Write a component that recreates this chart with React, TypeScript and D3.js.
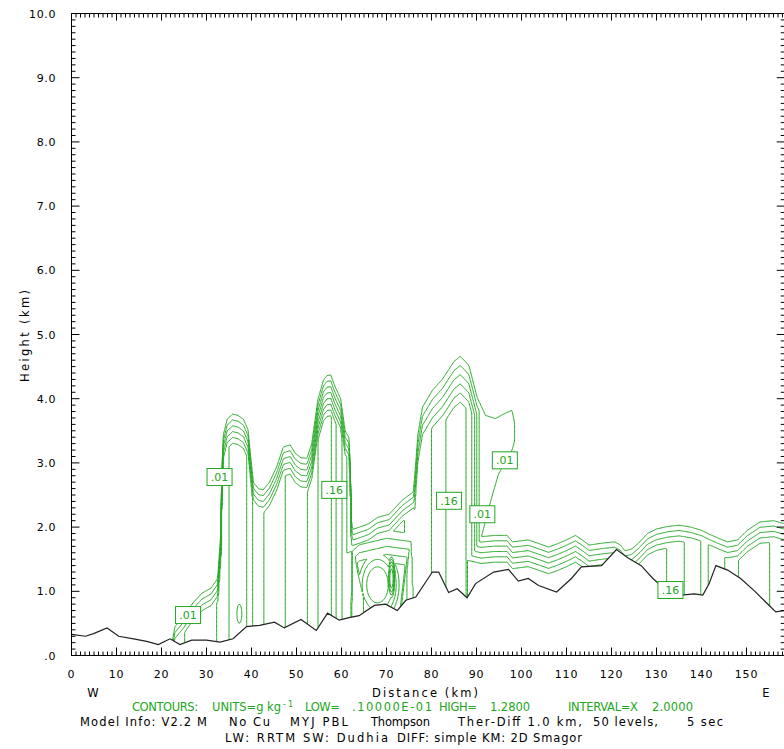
import React, { useMemo } from 'react';
import * as d3 from 'd3';

type P = [number, number];

const X_MAX = 158.5;
const contourLevels = [0.01, 0.02, 0.04, 0.08, 0.16, 0.32, 0.64, 1.28];
const yTickLabels = ['.0', '1.0', '2.0', '3.0', '4.0', '5.0', '6.0', '7.0', '8.0', '9.0', '10.0'];
const xTickValues = [0, 10, 20, 30, 40, 50, 60, 70, 80, 90, 100, 110, 120, 130, 140, 150];

// terrain height (km) along the section
const terrain: P[] = [
  [0, 0.33], [3.1, 0.30], [4.9, 0.34], [7.9, 0.43], [10.5, 0.30], [13.8, 0.26], [16.7, 0.22], [19.3, 0.17],
  [21.9, 0.26], [24.1, 0.17], [26.7, 0.24], [30.0, 0.24], [33.0, 0.21], [35.9, 0.26], [38.9, 0.45], [41.8, 0.47],
  [45.1, 0.52], [47.3, 0.43], [51.0, 0.56], [54.4, 0.39], [56.9, 0.66], [59.5, 0.55], [61.7, 0.59], [63.9, 0.62],
  [67.3, 0.78], [69.8, 0.80], [72.4, 0.70], [74.3, 0.86], [76.5, 0.91], [80.2, 1.30], [81.6, 1.30], [83.8, 0.98],
  [85.7, 1.04], [87.9, 0.90], [89.8, 1.12], [93.8, 1.30], [97.1, 1.34], [99.3, 1.16], [101.5, 1.20], [103.8, 1.09],
  [107.8, 0.99], [111.1, 1.20], [113.3, 1.38], [117.8, 1.40], [121.1, 1.65], [123.7, 1.52], [126.6, 1.40],
  [129.2, 1.20], [131.8, 1.04], [135.5, 0.94], [138.4, 0.96], [140.3, 0.94], [141.7, 1.12], [143.2, 1.40],
  [145.8, 1.33], [148.7, 1.20], [151.7, 1.01], [154.6, 0.81], [156.5, 0.68], [158.5, 0.70],
];

// western towers: top of the .01 contour (km) and core contour index
const westTop: P[] = [
  [15, -1], [21.5, -0.1], [23, 0.45], [25, 0.62], [27, 0.82], [29, 0.97], [31, 1.05], [32.5, 1.2], [33.2, 1.9],
  [33.5, 3.0], [33.8, 3.45], [34.6, 3.68], [35.8, 3.76], [37, 3.74], [38.2, 3.68], [39.2, 3.52], [39.8, 3.1],
  [40.4, 2.7], [41.5, 2.6], [42.6, 2.58], [44, 2.7], [45.6, 2.94], [47.1, 3.25], [48.6, 3.28], [49.7, 3.15],
  [51, 3.08], [52.3, 3.07], [53.4, 3.3], [54.2, 3.7], [54.8, 4.0], [56, 4.29], [56.8, 4.36], [57.6, 4.37],
  [58.5, 4.2], [59.8, 4.0], [60.8, 3.5], [61.6, 3.4], [61.9, 3.05], [62.2, 2.1], [63.5, 1.5], [65.5, 0.9], [67, -0.5],
];
const westCore: P[] = [
  [21, 1], [23, 2.5], [26, 3.2], [29, 3.5], [31.5, 3.7], [32.5, 4.1], [33.5, 4.3], [34.5, 4.7], [35.5, 5.3],
  [37, 5.6], [38.5, 5.3], [39.5, 4.6], [40.5, 3.8], [42, 3.7], [43, 4.1], [45, 4.5], [48, 5.1], [51, 5.5],
  [53, 6.2], [54.5, 6.8], [55.5, 7.5], [57, 7.6], [58, 6.8], [59, 5.8], [60, 5.1], [61, 4.2], [62, 3.1],
  [64, 2.4], [66, 1.5],
];

// central tower
const centralTop: P[] = [
  [70, -1], [73.5, 1.0], [75, 1.9], [75.8, 2.4], [76.4, 2.9], [77, 3.45], [78, 3.87], [80.2, 4.13], [82.4, 4.3],
  [85, 4.58], [86.4, 4.66], [88.3, 4.52], [90.1, 4.03], [92, 3.74], [94.2, 3.69], [96, 3.76], [97.9, 3.82],
  [98.5, 3.6], [99.2, -1],
];
const centralCore: P[] = [
  [73, 1.2], [75.5, 2.5], [77, 3.4], [79, 3.8], [80.5, 4.1], [82, 4.7], [84, 5.2], [86, 5.3], [87.5, 5.1],
  [88.5, 4.5], [89.3, 3.6], [90, 2.1], [90.7, 0.8], [97, 0.7], [98.5, 0.5],
];
const centralBase: P[] = [[90.4, -2], [90.9, 1.8], [93.4, 2.47], [94.9, 2.83], [97.9, 3.2], [99.5, 3.6]];

// low shelf layer to the east
const shelfTop: P[] = [
  [58, -2], [60.3, 1.9], [62, 1.95], [64, 2.0], [66, 2.05], [68, 2.15], [70.6, 2.2], [73.5, 2.42], [76, 2.55],
  [78, 2.3], [82, 2.0], [88, 1.9], [91, 1.85], [94, 1.87], [96.8, 1.87], [98, 1.77], [101.5, 1.8], [104, 1.74],
  [106, 1.69], [108, 1.74], [110, 1.8], [112, 1.87], [113.5, 1.8], [115, 1.72], [118, 1.75], [120.7, 1.77],
  [122, 1.72], [123, 1.63], [124.5, 1.66], [126, 1.75], [128, 1.9], [130, 1.97], [132.5, 2.01], [135, 2.03],
  [137.6, 2.0], [140, 1.95], [141.4, 1.9], [144, 1.82], [145.8, 1.77], [148, 1.8], [150.2, 1.95], [153, 2.08],
  [156, 2.1], [158, 2.06], [162, 2.0],
];
const shelfCore: P[] = [
  [60, 3.5], [62, 4.5], [65, 4.8], [70, 4.9], [74, 4.0], [77, 2.8], [81, 3.2], [86, 4.5], [90, 5.5], [100, 5.5],
  [110, 5.5], [117, 5.2], [120, 4.6], [122, 3.5], [124, 3.1], [126, 4.2], [128, 4.6], [131, 4.5], [133, 3.7],
  [135.5, 3.4], [136.5, 2.8], [138.5, 2.4], [140.5, 1.8], [142.5, 2.2], [144.5, 2.8], [146.5, 3.4], [148.5, 4.1],
  [151.5, 4.5], [154.5, 4.3], [156, 3.6], [158, 3.3], [162, 3.3],
];
const shelfBase: P[] = [[61.6, -2], [62.4, 1.25], [64, 1.35], [70, 1.45], [75.5, 1.4], [77, -2]];

// isolated maxima (centre km, centre height, half-widths per contour step, peak index)
const cellX = [37.3, 68, 71.1];
const cellZ = [0.65, 1.1, 1.2];
const cellRx = [1.0, 2.4, 0.35];
const cellRz = [0.27, 0.28, 0.15];
const cellPeak = [6.3, 4, 6];

// contour labels
const labelText = ['.01', '.16', '.01', '.16', '.01', '.01', '.16'];
const labelKm = [32.9, 58.4, 25.9, 83.9, 91.3, 96.3, 133.1];
const labelH = [2.78, 2.58, 0.63, 2.41, 2.2, 3.04, 1.02];

const greenTexts = ['CONTOURS:', 'UNITS=g kg', 'LOW=', '.10000E-01', 'HIGH=', '1.2800', 'INTERVAL=X', '2.0000'];
const greenSpans = [[132, 198], [212, 281], [305, 340], [352, 432], [439, 477], [490, 530], [568, 638], [652, 693]];
const infoTexts = ['Model Info: V2.2 M', 'No Cu', 'MYJ PBL', 'Thompson', 'Ther-Diff 1.0 km,', '50 levels,', '5 sec'];
const infoSpans = [[80, 207], [229, 270], [290, 348], [371, 430], [458, 582], [593, 658], [687, 723]];
const physTexts = ['LW: RRTM SW: Dudhia', 'DIFF: simple KM: 2D Smagor'];
const physSpans = [[225, 388], [397, 582]];

const FONT = "'DejaVu Sans', 'Liberation Sans', sans-serif";
const GREEN = '#22a622';

const x = d3.scaleLinear().domain([0, X_MAX]).range([71.5, 784.75]);
const y = d3.scaleLinear().domain([0, 10]).range([655.5, 13.5]);

function pl(p: P[]) {
  return d3.scaleLinear().domain(p.map(d => d[0])).range(p.map(d => d[1])).clamp(true);
}

export default function App() {
  const contourPaths = useMemo(() => {
    const gx0 = -2, gdx = 0.2, nx = 821;
    const gz0 = -0.5, gdz = 0.02, nz = 301;
    const wT = pl(westTop), wC = pl(westCore);
    const cT = pl(centralTop), cC = pl(centralCore), cB = pl(centralBase);
    const sT = pl(shelfTop), sC = pl(shelfCore), sB = pl(shelfBase);
    const values = new Array(nx * nz);
    for (let i = 0; i < nx; i++) {
      const xi = gx0 + i * gdx;
      const tA = wT(xi), kA = wC(xi);
      const t3 = cT(xi), k3 = cC(xi), b3 = cB(xi);
      const tS = sT(xi), kS = sC(xi), bS = sB(xi);
      for (let j = 0; j < nz; j++) {
        const z = gz0 + j * gdz;
        let L = Math.min(kA, 11 * (tA - z));
        L = Math.max(L, Math.min(k3, 7 * (t3 - z), 12 * (z - b3)));
        L = Math.max(L, Math.min(kS, 12 * (tS - z), 8 * (z - bS)));
        for (let b = 0; b < cellX.length; b++) {
          const dx = (xi - cellX[b]) / cellRx[b];
          const dz = (z - cellZ[b]) / cellRz[b];
          L = Math.max(L, cellPeak[b] - dx * dx - dz * dz);
        }
        values[j * nx + i] = 0.01 * Math.pow(2, Math.max(-3, L));
      }
    }
    const cs = d3.contours().size([nx, nz]).thresholds(contourLevels)(values);
    const proj = d3.geoTransform({
      point(px: number, py: number) {
        (this as any).stream.point(x(gx0 + (px - 0.5) * gdx), y(gz0 + (py - 0.5) * gdz));
      },
    });
    const path = d3.geoPath(proj as any);
    return cs.map(c => path(c as any) || '');
  }, []);

  const terrainLine = d3.line<P>().x(d => x(d[0])).y(d => y(d[1]))(terrain) || '';
  const clipD = `M${x(0)},${y(10)}L${terrainLine.slice(1)}L${x(X_MAX)},${y(10)}Z`;

  const x0 = x(0), x1 = x(X_MAX), y0 = y(0), y1 = y(10);
  const minorY = d3.range(0, 101);
  const minorX = d3.range(0, 159);

  return (
    <svg width={784} height={749} style={{ position: 'absolute', left: 0, top: 0, background: '#fff' }}
      fontFamily={FONT}>
      <rect x={0} y={0} width={784} height={749} fill="#fff" />
      <defs>
        <clipPath id="above">
          <path d={clipD} />
        </clipPath>
      </defs>
      <g clipPath="url(#above)" fill="none" stroke={GREEN} strokeWidth={1}>
        {contourPaths.map((d, i) => <path key={i} d={d} />)}
      </g>
      <path d={terrainLine} fill="none" stroke="#222" strokeWidth={1.2} />
      {/* frame */}
      <g stroke="#000" strokeWidth={1} fill="none">
        <line x1={x0} y1={y0} x2={x1} y2={y0} />
        <line x1={x0} y1={y1} x2={x1} y2={y1} />
        <line x1={x0} y1={y0} x2={x0} y2={y1} />
        <line x1={x1} y1={y0} x2={x1} y2={y1} />
        {minorY.map(v => {
          const len = v % 10 === 0 ? 8 : 4;
          const yy = y(v / 10);
          return <g key={'y' + v}>
            <line x1={x0} y1={yy} x2={x0 + len} y2={yy} />
            <line x1={x1} y1={yy} x2={x1 - len} y2={yy} />
          </g>;
        })}
        {minorX.map(v => {
          const xx = x(v);
          return <g key={'x' + v}>
            <line x1={xx} y1={y0} x2={xx} y2={y0 - (v % 10 === 0 ? 8 : 4)} />
            <line x1={xx} y1={y1} x2={xx} y2={y1 + (v % 10 === 0 ? 7 : 4)} />
          </g>;
        })}
      </g>
      {/* contour labels */}
      {labelText.map((t, i) => (
        <g key={'lab' + i}>
          <rect x={x(labelKm[i]) - 12.5} y={y(labelH[i]) - 8.5} width={25} height={17} fill="#fff" stroke={GREEN} strokeWidth={1} />
          <text x={x(labelKm[i])} y={y(labelH[i]) + 4} fontSize={11} fill={GREEN} textAnchor="middle">{t}</text>
        </g>
      ))}
      {/* y tick labels */}
      {yTickLabels.map((t, i) => (
        <text key={'yl' + i} x={56} y={y(i) + 4} fontSize={11} textAnchor="end" letterSpacing={0.6}>{t}</text>
      ))}
      {xTickValues.map(v => (
        <text key={'xl' + v} x={x(v)} y={677.5} fontSize={11} textAnchor="middle" letterSpacing={0.8}>{v}</text>
      ))}
      <text x={93} y={697} fontSize={11.5} textAnchor="middle">W</text>
      <text x={766} y={697} fontSize={11.5} textAnchor="middle">E</text>
      <text x={372} y={697} fontSize={11.5} textLength={106} lengthAdjust="spacing">Distance (km)</text>
      <text transform="translate(29,336) rotate(-90)" fontSize={11.5} textAnchor="middle" textLength={92} lengthAdjust="spacing">Height (km)</text>
      {/* footer */}
      {greenTexts.map((t, i) => (
        <text key={'g' + i} x={greenSpans[i][0]} y={711} fontSize={11.5} fill={GREEN}
          textLength={greenSpans[i][1] - greenSpans[i][0]} lengthAdjust="spacing">{t}</text>
      ))}
      <text x={283} y={707} fontSize={8} fill={GREEN} textLength={10} lengthAdjust="spacing">-1</text>
      {infoTexts.map((t, i) => (
        <text key={'m' + i} x={infoSpans[i][0]} y={726} fontSize={11.5} fill="#000"
          textLength={infoSpans[i][1] - infoSpans[i][0]} lengthAdjust="spacing">{t}</text>
      ))}
      {physTexts.map((t, i) => (
        <text key={'p' + i} x={physSpans[i][0]} y={741.5} fontSize={11.5} fill="#000"
          textLength={physSpans[i][1] - physSpans[i][0]} lengthAdjust="spacing">{t}</text>
      ))}
    </svg>
  );
}
